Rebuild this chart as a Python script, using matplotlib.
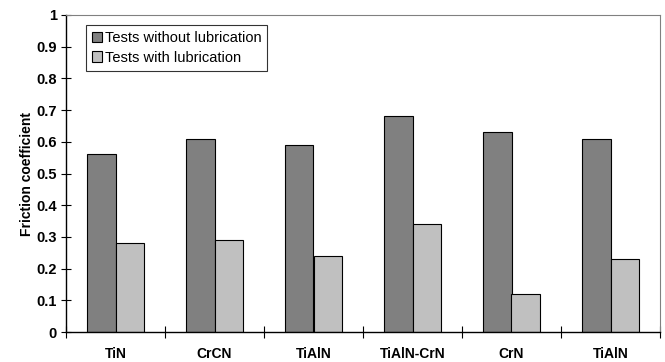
import matplotlib
matplotlib.use("Agg")
import matplotlib.pyplot as plt
import numpy as np

plt.rcParams['font.family'] = ['Liberation Sans', 'DejaVu Sans']

coatings = ["TiN", "CrCN", "TiAlN", "TiAlN-CrN", "CrN", "TiAlN"]
without_lub = [0.56, 0.61, 0.59, 0.68, 0.63, 0.61]
with_lub = [0.28, 0.29, 0.24, 0.34, 0.12, 0.23]
series_names = ["Tests without lubrication", "Tests with lubrication"]
yticks = [0, 0.1, 0.2, 0.3, 0.4, 0.5, 0.6, 0.7, 0.8, 0.9, 1]
ytick_labels = ["0", "0.1", "0.2", "0.3", "0.4", "0.5", "0.6", "0.7", "0.8", "0.9", "1"]

fig = plt.figure(figsize=(6.65, 3.62), dpi=100)
ax = fig.add_axes([66/665, 1 - 332/362, (660 - 66)/665, (332 - 15)/362])

x = np.arange(len(coatings))
w = 0.29
ax.bar(x - w/2, without_lub, w, color="#808080", edgecolor="black", linewidth=0.8,
       label=series_names[0], zorder=2)
ax.bar(x + w/2, with_lub, w, color="#c0c0c0", edgecolor="black", linewidth=0.8,
       label=series_names[1], zorder=2)

ax.set_xlim(-0.5, len(coatings) - 0.5)
ax.set_ylim(0, 1)

ax.set_yticks(yticks)
ax.set_yticklabels(ytick_labels, fontsize=10.5, fontweight="bold")
ax.tick_params(axis="y", direction="inout", length=7, width=0.8, pad=3)

# category labels centred, tick marks on the category boundaries
ax.set_xticks(x)
ax.set_xticklabels(coatings, fontsize=10, fontweight="bold")
ax.tick_params(axis="x", which="major", length=0, pad=10.5)
ax.set_xticks(np.arange(-0.5, len(coatings) + 0.5, 1), minor=True)
ax.tick_params(axis="x", which="minor", direction="inout", length=8, width=0.8)

ax.set_ylabel("Friction coefficient", fontsize=10, fontweight="bold", labelpad=2)

for side in ["left", "bottom"]:
    ax.spines[side].set_color("black")
    ax.spines[side].set_linewidth(1.0)
for side in ["top", "right"]:
    ax.spines[side].set_color("#808080")
    ax.spines[side].set_linewidth(0.8)

leg = ax.legend(loc="upper left", bbox_to_anchor=(86/665, 1 - 25/362),
                bbox_transform=fig.transFigure, fontsize=10.5, frameon=True,
                fancybox=False, shadow=False, borderpad=0.4, labelspacing=0.4,
                handlelength=0.7, handleheight=0.7, handletextpad=0.2,
                borderaxespad=0)
leg.get_frame().set_edgecolor("black")
leg.get_frame().set_linewidth(0.8)

fig.savefig("out.png", dpi=100)
